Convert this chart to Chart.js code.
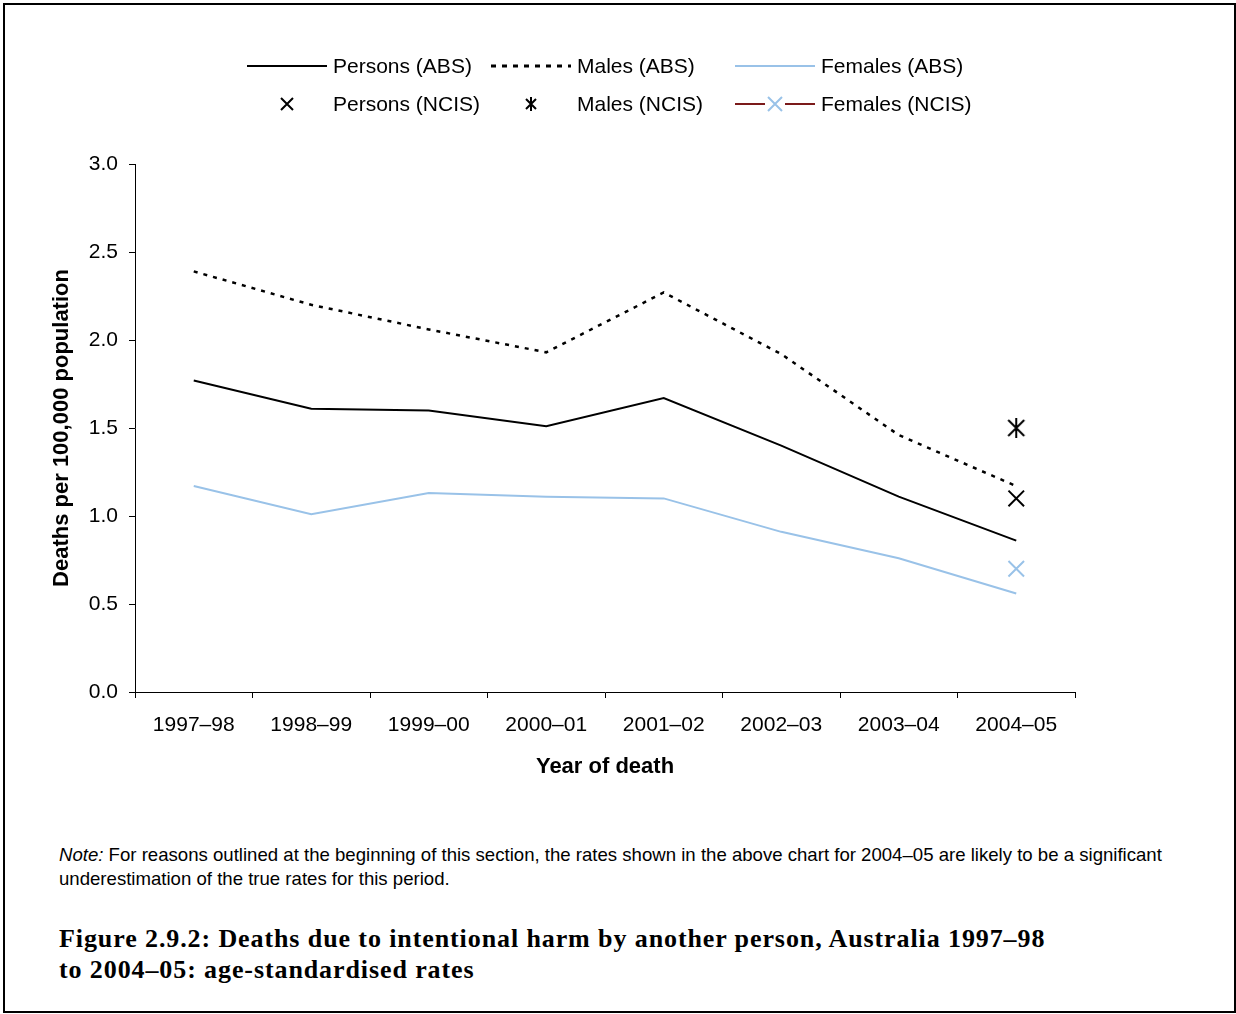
<!DOCTYPE html>
<html>
<head>
<meta charset="utf-8">
<script src="https://cdn.jsdelivr.net/npm/chart.js@4.4.0/dist/chart.umd.min.js"></script>
<style>
  body { margin:0; background:#fff; font-family:"Liberation Sans", Arial, sans-serif; }
  #frame { position:absolute; left:3px; top:3px; width:1233px; height:1010px; box-sizing:border-box; border:2px solid #000; }
  #wrap { position:absolute; left:0; top:0; width:1236px; height:800px; }
  .leg { position:absolute; font-size:21px; color:#000; line-height:24px; white-space:nowrap; }
  .sym { position:absolute; }
  #note { position:absolute; left:59px; top:843px; font-size:18.6px; line-height:24px; color:#000; }
  #caption { position:absolute; left:59px; top:923px; font-family:"Liberation Serif", "DejaVu Serif", serif; font-weight:bold; font-size:26px; letter-spacing:0.9px; line-height:31px; color:#000; }
</style>
</head>
<body>
<div id="frame"></div>
<div id="wrap"><canvas id="chart" width="1236" height="800"></canvas></div>

<!-- легенда -->
<svg class="sym" style="left:247px;top:60px" width="82" height="12"><line x1="0" y1="6" x2="80" y2="6" stroke="#000" stroke-width="2"/></svg>
<div class="leg" style="left:333px;top:54px">Persons (ABS)</div>
<svg class="sym" style="left:491px;top:60px" width="82" height="12"><line x1="0" y1="6" x2="80" y2="6" stroke="#000" stroke-width="3" stroke-dasharray="5,6"/></svg>
<div class="leg" style="left:577px;top:54px">Males (ABS)</div>
<svg class="sym" style="left:735px;top:60px" width="82" height="12"><line x1="0" y1="6" x2="80" y2="6" stroke="#99c2e8" stroke-width="2"/></svg>
<div class="leg" style="left:821px;top:54px">Females (ABS)</div>

<svg class="sym" style="left:279px;top:96px" width="16" height="16"><path d="M2 2L14 14M14 2L2 14" stroke="#000" stroke-width="2"/></svg>
<div class="leg" style="left:333px;top:92px">Persons (NCIS)</div>
<svg class="sym" style="left:523px;top:96px" width="16" height="16"><path d="M3 3L13 13M13 3L3 13M8 1L8 15" stroke="#000" stroke-width="2"/></svg>
<div class="leg" style="left:577px;top:92px">Males (NCIS)</div>
<svg class="sym" style="left:735px;top:96px" width="82" height="16"><line x1="0" y1="8" x2="80" y2="8" stroke="#7b1a1a" stroke-width="2"/><rect x="30" y="0" width="20" height="16" fill="#fff"/><path d="M33 1L47 15M47 1L33 15" stroke="#99c2e8" stroke-width="2"/></svg>
<div class="leg" style="left:821px;top:92px">Females (NCIS)</div>

<div id="note"><i>Note:</i> For reasons outlined at the beginning of this section, the rates shown in the above chart for 2004–05 are likely to be a significant<br>underestimation of the true rates for this period.</div>
<div id="caption">Figure 2.9.2: Deaths due to intentional harm by another person, Australia 1997–98<br>to 2004–05: age-standardised rates</div>

<script>
// данные
const years = ['1997–98','1998–99','1999–00','2000–01','2001–02','2002–03','2003–04','2004–05'];
const personsAbs = [1.77, 1.61, 1.60, 1.51, 1.67, 1.40, 1.11, 0.86];
const malesAbs   = [2.39, 2.20, 2.06, 1.93, 2.27, 1.92, 1.46, 1.17];
const femalesAbs = [1.17, 1.01, 1.13, 1.11, 1.10, 0.91, 0.76, 0.56];
const personsNcis = [null, null, null, null, null, null, null, 1.1];
const malesNcis   = [null, null, null, null, null, null, null, 1.5];
const femalesNcis = [null, null, null, null, null, null, null, 0.7];

const blue = '#99c2e8';

// звёздочка как в Excel: крест + вертикальная линия
function starImg() {
    const c = document.createElement('canvas');
    c.width = 20; c.height = 20;
    const g = c.getContext('2d');
    g.strokeStyle = '#000'; g.lineWidth = 2;
    g.beginPath();
    g.moveTo(2,2); g.lineTo(18,18);
    g.moveTo(18,2); g.lineTo(2,18);
    g.moveTo(10,0); g.lineTo(10,20);
    g.stroke();
    return c;
}

const font = {family:'"Liberation Sans", Arial, sans-serif', size:21};
const titleFont = {family:'"Liberation Sans", Arial, sans-serif', size:22, weight:'bold'};

new Chart(document.getElementById('chart'), {
    type:'line',
    data:{
        labels: years,
        datasets:[
            {label:'Persons (ABS)', data:personsAbs, borderColor:'#000', borderWidth:2, pointRadius:0, tension:0},
            {label:'Males (ABS)', data:malesAbs, borderColor:'#000', borderWidth:2.5, borderDash:[4,6], pointRadius:0, tension:0},
            {label:'Females (ABS)', data:femalesAbs, borderColor:blue, borderWidth:2, pointRadius:0, tension:0},
            {label:'Persons (NCIS)', data:personsNcis, showLine:false, pointStyle:'crossRot', pointRadius:11, pointBorderWidth:2, borderColor:'#000', backgroundColor:'#000'},
            {label:'Males (NCIS)', data:malesNcis, showLine:false, pointStyle:starImg(), pointRadius:10},
            {label:'Females (NCIS)', data:femalesNcis, showLine:false, pointStyle:'crossRot', pointRadius:11, pointBorderWidth:2, borderColor:blue, backgroundColor:blue}
        ]
    },
    options:{
        responsive:false,
        animation:false,
        layout:{padding:{left:49, top:164, right:161, bottom:8}},
        plugins:{legend:{display:false}, tooltip:{enabled:false}},
        scales:{
            x:{
                offset:true,
                grid:{display:true, drawOnChartArea:false, offset:true, tickLength:6, color:'#000', tickColor:'#000'},
                border:{color:'#000', width:1},
                ticks:{font:font, color:'#000', padding:15, maxRotation:0},
                title:{display:true, text:'Year of death', font:titleFont, color:'#000', padding:{top:0, bottom:12}},
                afterFit: s => { s.height = 100; }
            },
            y:{
                min:0, max:3,
                grid:{display:true, drawOnChartArea:false, tickLength:6, color:'#000', tickColor:'#000'},
                border:{color:'#000', width:1},
                ticks:{stepSize:0.5, font:font, color:'#000', padding:11, callback: v => v.toFixed(1)},
                title:{display:true, text:'Deaths per 100,000 population', font:titleFont, color:'#000', padding:{top:0, bottom:0}},
                afterFit: s => { s.width = 86; }
            }
        }
    }
});
</script>
</body>
</html>
